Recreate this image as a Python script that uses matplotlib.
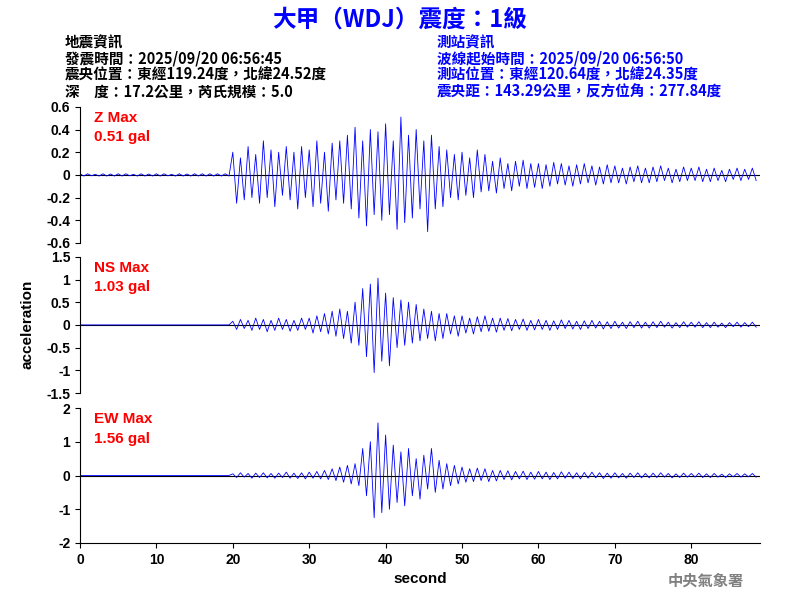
import numpy as np
import matplotlib
matplotlib.use("Agg")
import matplotlib.pyplot as plt

plt.rcParams['font.family'] = ['Liberation Sans', 'Noto Sans CJK TC', 'DejaVu Sans']

dt = 0.5
quiet = [0.01, -0.01, 0.01, -0.008, 0.005, -0.01, 0.01, -0.01, 0.008, -0.01] * 3 + [0.01, -0.01, 0.01, -0.01, 0.01, -0.01, 0.01, -0.01, 0.01, -0.01]
flat = [0.0] * 40
tail = [0.08, -0.07, 0.06, -0.08, 0.07, -0.06, 0.08, -0.07, 0.06, -0.07, 0.07, -0.06, 0.08, -0.05, 0.06, -0.07, 0.05, -0.06, 0.07, -0.05,
        0.06, -0.05, 0.07, -0.06, 0.05, -0.06, 0.06, -0.05, 0.04, -0.06, 0.05, -0.04, 0.06, -0.05, 0.05, -0.04, 0.06, -0.05]

z_vals = quiet + [0.2, -0.25, 0.15, -0.22, 0.25, -0.2, 0.18, -0.25, 0.3, -0.2, 0.22, -0.28, 0.2, -0.18, 0.25, -0.22, 0.2, -0.3, 0.25, -0.2,
                  0.22, -0.28, 0.3, -0.25, 0.2, -0.32, 0.28, -0.22, 0.3, -0.25, 0.35, -0.3, 0.42, -0.38, 0.3, -0.45, 0.4, -0.35, 0.38, -0.4,
                  0.45, -0.35, 0.3, -0.48, 0.51, -0.42, 0.35, -0.38, 0.4, -0.3, 0.3, -0.5, 0.35, -0.3, 0.25, -0.28, 0.22, -0.2, 0.18, -0.22,
                  0.2, -0.18, 0.15, -0.2, 0.22, -0.15, 0.18, -0.14, 0.12, -0.16, 0.15, -0.12, 0.1, -0.14, 0.12, -0.1, 0.13, -0.12, 0.1, -0.11,
                  0.1, -0.12, 0.09, -0.1, 0.11, -0.08, 0.1, -0.09, 0.08, -0.1, 0.09, -0.08, 0.1, -0.07, 0.08, -0.09, 0.07, -0.08, 0.09, -0.07] + tail
ns_vals = flat + [0.08, -0.1, 0.12, -0.08, 0.1, -0.12, 0.15, -0.1, 0.12, -0.15, 0.1, -0.12, 0.15, -0.1, 0.12, -0.14, 0.1, -0.12, 0.15, -0.1,
                  0.15, -0.18, 0.2, -0.15, 0.25, -0.2, 0.3, -0.25, 0.35, -0.3, 0.3, -0.4, 0.5, -0.45, 0.8, -0.7, 0.9, -1.05, 1.03, -0.8,
                  0.7, -0.9, 0.6, -0.5, 0.55, -0.45, 0.5, -0.4, 0.45, -0.35, 0.35, -0.3, 0.3, -0.35, 0.25, -0.3, 0.25, -0.2, 0.2, -0.25,
                  0.2, -0.18, 0.15, -0.2, 0.18, -0.15, 0.2, -0.14, 0.15, -0.16, 0.15, -0.12, 0.14, -0.13, 0.12, -0.1, 0.13, -0.12, 0.1, -0.11,
                  0.12, -0.1, 0.1, -0.12, 0.09, -0.1, 0.11, -0.08, 0.1, -0.09, 0.08, -0.1, 0.09, -0.08, 0.1, -0.07, 0.08, -0.09, 0.07, -0.08] + tail
ew_vals = flat + [0.05, -0.06, 0.08, -0.05, 0.06, -0.08, 0.07, -0.06, 0.08, -0.07, 0.06, -0.08, 0.07, -0.06, 0.1, -0.08, 0.07, -0.09, 0.08, -0.1,
                  0.1, -0.08, 0.12, -0.1, 0.15, -0.12, 0.2, -0.15, 0.25, -0.2, 0.3, -0.25, 0.35, -0.3, 0.8, -0.6, 1.0, -1.25, 1.56, -1.1,
                  1.2, -1.0, 0.9, -0.8, 0.7, -0.9, 0.8, -0.6, 0.5, -0.7, 0.6, -0.4, 0.8, -0.5, 0.45, -0.4, 0.35, -0.3, 0.3, -0.25,
                  0.25, -0.2, 0.2, -0.18, 0.22, -0.15, 0.2, -0.18, 0.15, -0.16, 0.15, -0.12, 0.14, -0.13, 0.12, -0.1, 0.13, -0.12, 0.1, -0.11,
                  0.12, -0.1, 0.1, -0.12, 0.09, -0.1, 0.11, -0.08, 0.1, -0.09, 0.08, -0.1, 0.09, -0.08, 0.1, -0.07, 0.08, -0.09, 0.07, -0.08] + tail

labels = ["Z Max\n0.51 gal", "NS Max\n1.03 gal", "EW Max\n1.56 gal"]
limits = [0.6, 1.5, 2.0]
ticks = [np.arange(-0.6, 0.61, 0.2), np.arange(-1.5, 1.51, 0.5), np.arange(-2, 2.1, 1)]

fig = plt.figure(figsize=(8, 6), dpi=100)
boxes = [(0.1, 0.595, 0.85, 0.227), (0.1, 0.345, 0.85, 0.227), (0.1, 0.095, 0.85, 0.225)]
cjk = ['Noto Sans CJK TC', 'DejaVu Sans']
for i, (vals, lab, lim, tk, box) in enumerate(zip([z_vals, ns_vals, ew_vals], labels, limits, ticks, boxes)):
    ax = fig.add_axes(box)
    t = np.arange(len(vals)) * dt
    ax.axhline(0, color='black', lw=0.8)
    ax.plot(t, vals, color='blue', lw=0.6)
    ax.set_xlim(0, 89)
    ax.set_ylim(-lim, lim)
    ax.set_yticks(tk)
    ax.set_yticklabels([("%g" % round(v, 1)) for v in tk], fontweight='bold', fontsize=10)
    ax.spines['top'].set_visible(False)
    ax.spines['right'].set_visible(False)
    ax.patch.set_alpha(0)
    if i < 2:
        ax.spines['bottom'].set_visible(False)
        ax.set_xticks([])
    else:
        ax.set_xticks(range(0, 81, 10))
        ax.set_xticklabels([str(v) for v in range(0, 81, 10)], fontweight='bold', fontsize=10)
        ax.set_xlabel("second", fontweight='bold', fontsize=11)
    ax.text(0.02, 0.97, lab, transform=ax.transAxes, color='red', fontweight='bold',
            fontsize=11, va='top', linespacing=1.5)

fig.text(0.035, 0.46, "acceleration", rotation=90, fontweight='bold', fontsize=11, va='center', ha='center')
fig.text(0.5, 0.968, "大甲（WDJ）震度：1級", color='blue', fontweight='bold', fontsize=17,
         ha='center', va='center', family=cjk)
left = ["地震資訊", "發震時間：2025/09/20 06:56:45", "震央位置：東經119.24度，北緯24.52度", "深　度：17.2公里，芮氏規模：5.0"]
right = ["測站資訊", "波線起始時間：2025/09/20 06:56:50", "測站位置：東經120.64度，北緯24.35度", "震央距：143.29公里，反方位角：277.84度"]
ys = [0.93, 0.902, 0.875, 0.848]
for s, y in zip(left, ys):
    fig.text(0.081, y, s, fontsize=10.5, fontweight='bold', va='center', family=cjk)
for s, y in zip(right, ys):
    fig.text(0.546, y, s, fontsize=10.5, fontweight='bold', color='blue', va='center', family=cjk)
fig.text(0.93, 0.032, "中央氣象署", color='gray', fontsize=11, fontweight='bold', ha='right', va='center', family=cjk)
fig.savefig("out.png", dpi=100)
